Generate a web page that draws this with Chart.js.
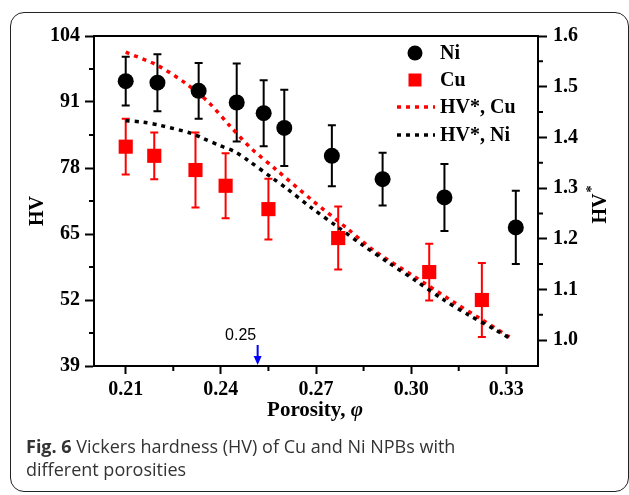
<!DOCTYPE html>
<html>
<head>
<meta charset="utf-8">
<script src="https://cdn.jsdelivr.net/npm/chart.js@4.4.1/dist/chart.umd.min.js"></script>
<style>
  html, body { margin:0; padding:0; background:#fff; }
  body { width:629px; height:495px; position:relative; overflow:hidden; }
  #frame { position:absolute; left:10px; top:12px; width:619px; height:480px; box-sizing:border-box;
           border:1.5px solid #222; border-radius:14px; }
  #c { position:absolute; left:0; top:0; }
  #cap { position:absolute; left:26px; top:435px; font-family:"Open Sans", sans-serif; font-size:18px;
         line-height:23px; color:#333; }
  #cap b { font-weight:700; }
</style>
</head>
<body>
<div id="frame"></div>
<canvas id="c" width="629" height="495"></canvas>
<div id="cap"><b>Fig. 6</b> Vickers hardness (HV) of Cu and Ni NPBs with<br>different porosities</div>
<script>
// ---- data ----
const niPorosity = [0.210, 0.220, 0.233, 0.245, 0.2535, 0.260, 0.275, 0.291, 0.3105, 0.333];
const niHV       = [95.1, 94.8, 93.2, 90.9, 88.8, 85.9, 80.4, 75.8, 72.2, 66.3];
const niErr      = [4.8, 5.6, 5.5, 7.7, 6.5, 7.5, 6.0, 5.2, 6.6, 7.2];

const cuPorosity = [0.210, 0.219, 0.232, 0.2415, 0.255, 0.277, 0.3057, 0.3223];
const cuHV       = [82.2, 80.4, 77.6, 74.5, 69.9, 64.2, 57.5, 52.0];
const cuErr      = [5.5, 4.6, 7.4, 6.4, 6.0, 6.2, 5.6, 7.3];

const hvStarCuPorosity = [0.210, 0.2197, 0.2286, 0.236, 0.2428, 0.2496, 0.2575, 0.2686, 0.2801, 0.288, 0.3006, 0.3132, 0.3216, 0.331];
const hvStarCu         = [1.568, 1.543, 1.508, 1.470, 1.423, 1.378, 1.336, 1.277, 1.219, 1.178, 1.127, 1.076, 1.043, 1.006];

const hvStarNiPorosity = [0.210, 0.2156, 0.2207, 0.2307, 0.2344, 0.2396, 0.2443, 0.2485, 0.2564, 0.2606, 0.2686, 0.2767, 0.2846, 0.2931, 0.3015, 0.3099, 0.3183, 0.3267, 0.331];
const hvStarNi         = [1.433, 1.430, 1.424, 1.408, 1.398, 1.384, 1.372, 1.355, 1.319, 1.300, 1.261, 1.224, 1.188, 1.152, 1.117, 1.081, 1.049, 1.020, 1.004];

const xTicks      = [0.21, 0.24, 0.27, 0.30, 0.33];
const xMinorTicks = [0.225, 0.255, 0.285, 0.315];
const hvTicks      = [39, 52, 65, 78, 91, 104];
const hvMinorTicks = [45.5, 58.5, 71.5, 84.5, 97.5];
const hvStarTicks      = [1.0, 1.1, 1.2, 1.3, 1.4, 1.5, 1.6];
const hvStarMinorTicks = [1.05, 1.15, 1.25, 1.35, 1.45, 1.55];
const markerPorosity = 0.2516;
const markerLabel = "0.25";

const legendLabels = ["Ni", "Cu", "HV*, Cu", "HV*, Ni"];

// ---- helpers ----
const pts = (xs, ys) => xs.map((x, i) => ({x: x, y: ys[i]}));
const SERIF = "'Liberation Serif', 'Times New Roman', serif";
const RED = '#ff0000', BLACK = '#000000', BLUE = '#0000ff';

const decor = {
  id: 'decor',
  beforeDatasetsDraw(chart) {
    const ctx = chart.ctx, xs = chart.scales.x, ys = chart.scales.y;
    const bars = [[niPorosity, niHV, niErr, BLACK], [cuPorosity, cuHV, cuErr, RED]];
    ctx.save();
    ctx.lineWidth = 2;
    bars.forEach(([px, v, e, col]) => {
      ctx.strokeStyle = col;
      px.forEach((p, i) => {
        const x = xs.getPixelForValue(p);
        const yt = ys.getPixelForValue(v[i] + e[i]);
        const yb = ys.getPixelForValue(v[i] - e[i]);
        ctx.beginPath();
        ctx.moveTo(x, yt); ctx.lineTo(x, yb);
        ctx.moveTo(x - 4, yt); ctx.lineTo(x + 4, yt);
        ctx.moveTo(x - 4, yb); ctx.lineTo(x + 4, yb);
        ctx.stroke();
      });
    });
    ctx.restore();
  },
  afterDraw(chart) {
    const ctx = chart.ctx, a = chart.chartArea;
    const xs = chart.scales.x, ys = chart.scales.y, y2 = chart.scales.y2;
    ctx.save();
    // top border
    ctx.strokeStyle = BLACK; ctx.lineWidth = 2;
    ctx.beginPath(); ctx.moveTo(a.left - 1, a.top); ctx.lineTo(a.right + 1, a.top); ctx.stroke();
    // minor ticks
    ctx.beginPath();
    xMinorTicks.forEach(v => { const x = xs.getPixelForValue(v); ctx.moveTo(x, a.bottom); ctx.lineTo(x, a.bottom + 5); });
    hvMinorTicks.forEach(v => { const y = ys.getPixelForValue(v); ctx.moveTo(a.left, y); ctx.lineTo(a.left - 5, y); });
    hvStarMinorTicks.forEach(v => { const y = y2.getPixelForValue(v); ctx.moveTo(a.right, y); ctx.lineTo(a.right + 5, y); });
    ctx.stroke();

    // axis titles
    ctx.fillStyle = BLACK;
    ctx.textBaseline = 'middle';
    ctx.font = "bold 20px " + SERIF;
    ctx.save();
    ctx.translate(38, (a.top + a.bottom) / 2 + 10);
    ctx.rotate(-Math.PI / 2);
    ctx.textAlign = 'center';
    ctx.fillText("HV", 0, 0);
    ctx.restore();

    ctx.save();
    ctx.translate(601, (a.top + a.bottom) / 2 + 4);
    ctx.rotate(-Math.PI / 2);
    ctx.textAlign = 'left';
    const w1 = ctx.measureText("HV").width;
    ctx.font = "bold 14px " + SERIF;
    const w2 = ctx.measureText("*").width;
    const start = -(w1 + w2) / 2;
    ctx.font = "bold 20px " + SERIF;
    ctx.fillText("HV", start, 0);
    ctx.font = "bold 14px " + SERIF;
    ctx.fillText("*", start + w1 + 1, -9);
    ctx.restore();

    // x title
    ctx.font = "bold 21px " + SERIF;
    const t1 = "Porosity, ";
    const tw1 = ctx.measureText(t1).width;
    ctx.font = "italic bold 21px " + SERIF;
    const tw2 = ctx.measureText("\u03C6").width;
    const cx = 315, ty = 411;
    ctx.textAlign = 'left';
    ctx.font = "bold 21px " + SERIF;
    ctx.fillText(t1, cx - (tw1 + tw2) / 2, ty);
    ctx.font = "italic bold 21px " + SERIF;
    ctx.fillText("\u03C6", cx - (tw1 + tw2) / 2 + tw1, ty);

    // annotation arrow
    const ax = xs.getPixelForValue(markerPorosity);
    ctx.strokeStyle = BLUE; ctx.fillStyle = BLUE; ctx.lineWidth = 2;
    ctx.beginPath(); ctx.moveTo(ax, a.bottom - 21); ctx.lineTo(ax, a.bottom - 8); ctx.stroke();
    ctx.beginPath(); ctx.moveTo(ax - 4, a.bottom - 10); ctx.lineTo(ax + 4, a.bottom - 10); ctx.lineTo(ax, a.bottom - 1); ctx.closePath(); ctx.fill();
    ctx.fillStyle = BLACK;
    ctx.font = "16px 'Liberation Sans', Arial, sans-serif";
    ctx.textAlign = 'center';
    ctx.fillText(markerLabel, ax - 17, a.bottom - 30);

    // legend
    const ds = chart.data.datasets;
    const lx = a.right - 123, tx = a.right - 98;
    const rows = [a.top + 17, a.top + 44, a.top + 71, a.top + 99];
    ctx.textAlign = 'left';
    ctx.font = "bold 20px " + SERIF;
    ctx.fillStyle = ds[0].backgroundColor;
    ctx.beginPath(); ctx.arc(lx, rows[0], 7.5, 0, Math.PI * 2); ctx.fill();
    ctx.fillStyle = ds[1].backgroundColor;
    ctx.fillRect(lx - 6.5, rows[1] - 6.5, 13, 13);
    [2, 3].forEach((k, j) => {
      ctx.strokeStyle = ds[k].borderColor; ctx.lineWidth = ds[k].borderWidth;
      ctx.setLineDash(ds[k].borderDash);
      ctx.beginPath(); ctx.moveTo(lx - 18, rows[2 + j]); ctx.lineTo(lx + 20, rows[2 + j]); ctx.stroke();
      ctx.setLineDash([]);
    });
    ctx.fillStyle = BLACK;
    legendLabels.forEach((t, i) => ctx.fillText(t, tx, rows[i] + 1));
    ctx.restore();
  }
};

const tickFont = { family: SERIF, size: 20, weight: 'bold' };

new Chart(document.getElementById('c'), {
  type: 'scatter',
  data: {
    datasets: [
      { label: legendLabels[0], data: pts(niPorosity, niHV), yAxisID: 'y', order: 0,
        pointStyle: 'circle', pointRadius: 8, pointHoverRadius: 8,
        backgroundColor: BLACK, borderColor: BLACK, borderWidth: 0 },
      { label: legendLabels[1], data: pts(cuPorosity, cuHV), yAxisID: 'y', order: 1,
        pointStyle: 'rect', pointRadius: 10, pointHoverRadius: 10,
        backgroundColor: RED, borderColor: RED, borderWidth: 0 },
      { label: legendLabels[2], data: pts(hvStarCuPorosity, hvStarCu), yAxisID: 'y2', order: 3,
        showLine: true, pointRadius: 0, borderColor: RED, backgroundColor: RED,
        borderWidth: 3.5, borderDash: [4, 5], tension: 0.3 },
      { label: legendLabels[3], data: pts(hvStarNiPorosity, hvStarNi), yAxisID: 'y2', order: 2,
        showLine: true, pointRadius: 0, borderColor: BLACK, backgroundColor: BLACK,
        borderWidth: 3.5, borderDash: [4, 5], tension: 0.3 }
    ]
  },
  options: {
    responsive: false,
    animation: false,
    events: [],
    layout: { padding: { top: 36, left: 0, right: 0, bottom: 0 } },
    plugins: { legend: { display: false }, tooltip: { enabled: false } },
    scales: {
      x: {
        type: 'linear', min: 0.20, max: 0.34,
        afterBuildTicks: s => { s.ticks = xTicks.map(v => ({value: v})); },
        afterFit: s => { s.height = 129; },
        ticks: { font: tickFont, color: BLACK, padding: 4, maxRotation: 0, autoSkip: false,
                 callback: v => Number(v).toFixed(2) },
        grid: { drawOnChartArea: false, tickLength: 8, tickWidth: 2, color: BLACK },
        border: { display: true, color: BLACK, width: 2 }
      },
      y: {
        type: 'linear', position: 'left', min: 39, max: 104,
        afterBuildTicks: s => { s.ticks = hvTicks.map(v => ({value: v})); },
        afterFit: s => { s.width = 94; },
        ticks: { font: tickFont, color: BLACK, padding: 5, autoSkip: false,
                 callback: v => String(v) },
        grid: { drawOnChartArea: false, tickLength: 9, tickWidth: 2, color: BLACK },
        border: { display: true, color: BLACK, width: 2 }
      },
      y2: {
        type: 'linear', position: 'right', min: 0.949, max: 1.6,
        afterBuildTicks: s => { s.ticks = hvStarTicks.map(v => ({value: v})); },
        afterFit: s => { s.width = 91; },
        ticks: { font: tickFont, color: BLACK, padding: 6, autoSkip: false,
                 callback: v => Number(v).toFixed(1) },
        grid: { drawOnChartArea: false, tickLength: 9, tickWidth: 2, color: BLACK },
        border: { display: true, color: BLACK, width: 2 }
      }
    }
  },
  plugins: [decor]
});
</script>
</body>
</html>
